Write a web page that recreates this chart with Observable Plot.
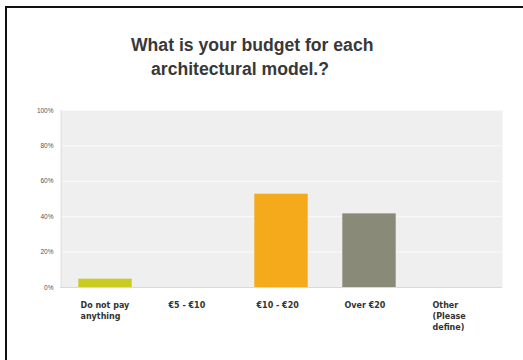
<!DOCTYPE html>
<html>
<head>
<meta charset="utf-8">
<script src="https://cdn.jsdelivr.net/npm/d3@7"></script>
<script src="https://cdn.jsdelivr.net/npm/@observablehq/plot@0.6"></script>
<style>
  html, body { margin: 0; padding: 0; background: #fff; width: 523px; height: 360px; overflow: hidden; }
  #frame { position: absolute; left: 5px; top: 6px; width: 518px; height: 354px;
           border-top: 2px solid #111; border-left: 2px solid #111; box-sizing: border-box; }
  .title { position: absolute; font-family: "Liberation Sans", Arial, sans-serif; font-weight: bold;
           font-size: 17.6px; color: #383838; white-space: nowrap; line-height: 1; }
  #chart { position: absolute; left: 0; top: 100px; }
</style>
</head>
<body>
<div id="frame"></div>
<div class="title" style="left:131px; top:37px;">What is your budget for each</div>
<div class="title" style="left:151px; top:61px;">architectural model.?</div>
<div id="chart"></div>
<script>
const categories = ["Do not pay\nanything", "€5 - €10", "€10 - €20", "Over €20", "Other\n(Please\ndefine)"];
const values = [4.7, 0, 52.7, 41.6, 0];
const colors = ["#cbcc22", "#cccccc", "#f5aa1c", "#898a78", "#cccccc"];
const yTicks = [0, 20, 40, 60, 80, 100];
const yTickLabels = ["0%", "20%", "40%", "60%", "80%", "100%"];

const data = categories.map((c, i) => ({category: c, value: values[i], color: colors[i]}));

const chart = Plot.plot({
  width: 523,
  height: 260,
  marginLeft: 60,
  marginRight: 21,
  marginTop: 10,
  marginBottom: 73,
  x: {domain: categories, padding: 0, axis: null},
  y: {domain: [0, 100], ticks: yTicks, tickFormat: (d) => yTickLabels[yTicks.indexOf(d)], tickSize: 0, tickPadding: 7, label: null},
  style: {fontFamily: "'Liberation Sans', Arial, sans-serif", fontSize: "6.5px", color: "#555", background: "transparent"},
  marks: [
    Plot.frame({fill: "#efefef", stroke: null}),
    Plot.gridY(yTicks.slice(1), {stroke: "#fafafa", strokeOpacity: 1, strokeWidth: 1}),
    Plot.ruleY([0], {stroke: "#d9d9d9"}),
    Plot.ruleX([categories[0]], {x: () => categories[0], dx: -44.2, stroke: "#e2e2e2", y1: 0, y2: 100}),
    Plot.barY(data.filter(d => d.value > 0), {x: "category", y: "value", fill: "color", insetLeft: 17.3, insetRight: 17.3}),
    Plot.text(data, {x: "category", y: 0, text: "category", textAnchor: "start", lineAnchor: "top", dx: -25, dy: 13,
      fontWeight: "bold", fontSize: 8, lineHeight: 1.375, fill: "#333", fontFamily: "'DejaVu Sans', Verdana, sans-serif"})
  ]
});
document.getElementById("chart").appendChild(chart);
</script>
</body>
</html>
